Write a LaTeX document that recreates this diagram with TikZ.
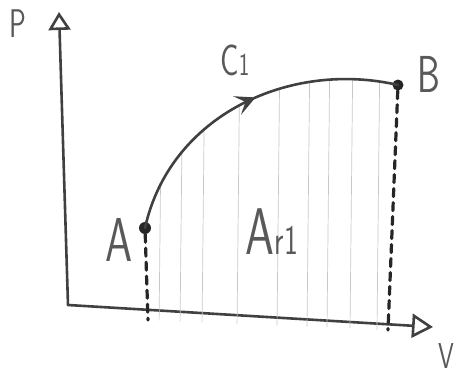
\documentclass[tikz,border=0pt]{standalone}
\usetikzlibrary{arrows.meta,decorations.markings}
\begin{document}
\begin{tikzpicture}[x=1pt, y=-1pt, line cap=round,
		pencil/.style={draw=black!75, line width=2.6pt},
		hatch/.style={draw=black!22, line width=0.7pt},
		drop/.style={draw=black!85, line width=3.2pt, dash pattern=on 8pt off 6pt},
		lbl/.style={text=black!65, font=\sffamily, inner sep=0pt, transform shape, xscale=0.7},
		dot/.style={circle, fill=black!85, inner sep=0pt, minimum size=12pt}]
	\useasboundingbox (0,0) rectangle (456,376);
	
	% Achsen
	\coordinate (O) at (68,305);
	\coordinate (Ptop) at (59,12);
	\coordinate (Vend) at (433,327);
	\draw[pencil, -{Triangle[open, length=18pt, width=22pt, line width=2.6pt]}] (O) -- (Ptop);
	\draw[pencil, -{Triangle[open, length=21pt, width=24pt, line width=2.6pt]}] (O) -- (Vend);
	\node[lbl, font=\sffamily\fontsize{40}{40}\selectfont] (P) at (18,24) {P};
	\node[lbl, font=\sffamily\fontsize{36}{36}\selectfont] (V) at (446,356) {V};
	
	% Zustaende A und B
	\node[dot] (A) at (145,228) {};
	\node[dot, minimum size=11pt] (B) at (398,85) {};
	\coordinate (Afoot) at (148,320);
	\coordinate (Bfoot) at (388,330);
	\node[lbl, font=\sffamily\fontsize{62}{62}\selectfont] (Alab) at (119,240) {A};
	\node[lbl, font=\sffamily\fontsize{52}{52}\selectfont] (Blab) at (429,74) {B};
	
	% Flaeche unter der Kurve
	\begin{scope}
		\clip (A.center) .. controls (170,115) and (290,60) .. (B.center) -- (Bfoot) -- (Afoot) -- cycle;
		\foreach \x in {162,183,205,240,280,310,330,353,380}
			\draw[hatch] (\x,40) -- (\x-3,330);
	\end{scope}
	\draw[drop] (A) -- (Afoot);
	\draw[drop] (B) -- (Bfoot);
	
	% Prozess C1
	\draw[pencil, postaction={decorate}, decoration={markings,
			mark=at position 0.55 with {\arrow{Stealth[length=20pt, width=20pt, inset=9pt]}}}]
		(A.center) .. controls (170,115) and (290,60) .. (B.center);
	\node[lbl, font=\sffamily\fontsize{44}{44}\selectfont] (C) at (235,60) {C{\fontsize{32}{32}\selectfont 1}};
	\node[lbl, font=\sffamily\fontsize{66}{66}\selectfont] (Ar) at (272,232) {A{\fontsize{42}{42}\selectfont r1}};
\end{tikzpicture}
\end{document}
